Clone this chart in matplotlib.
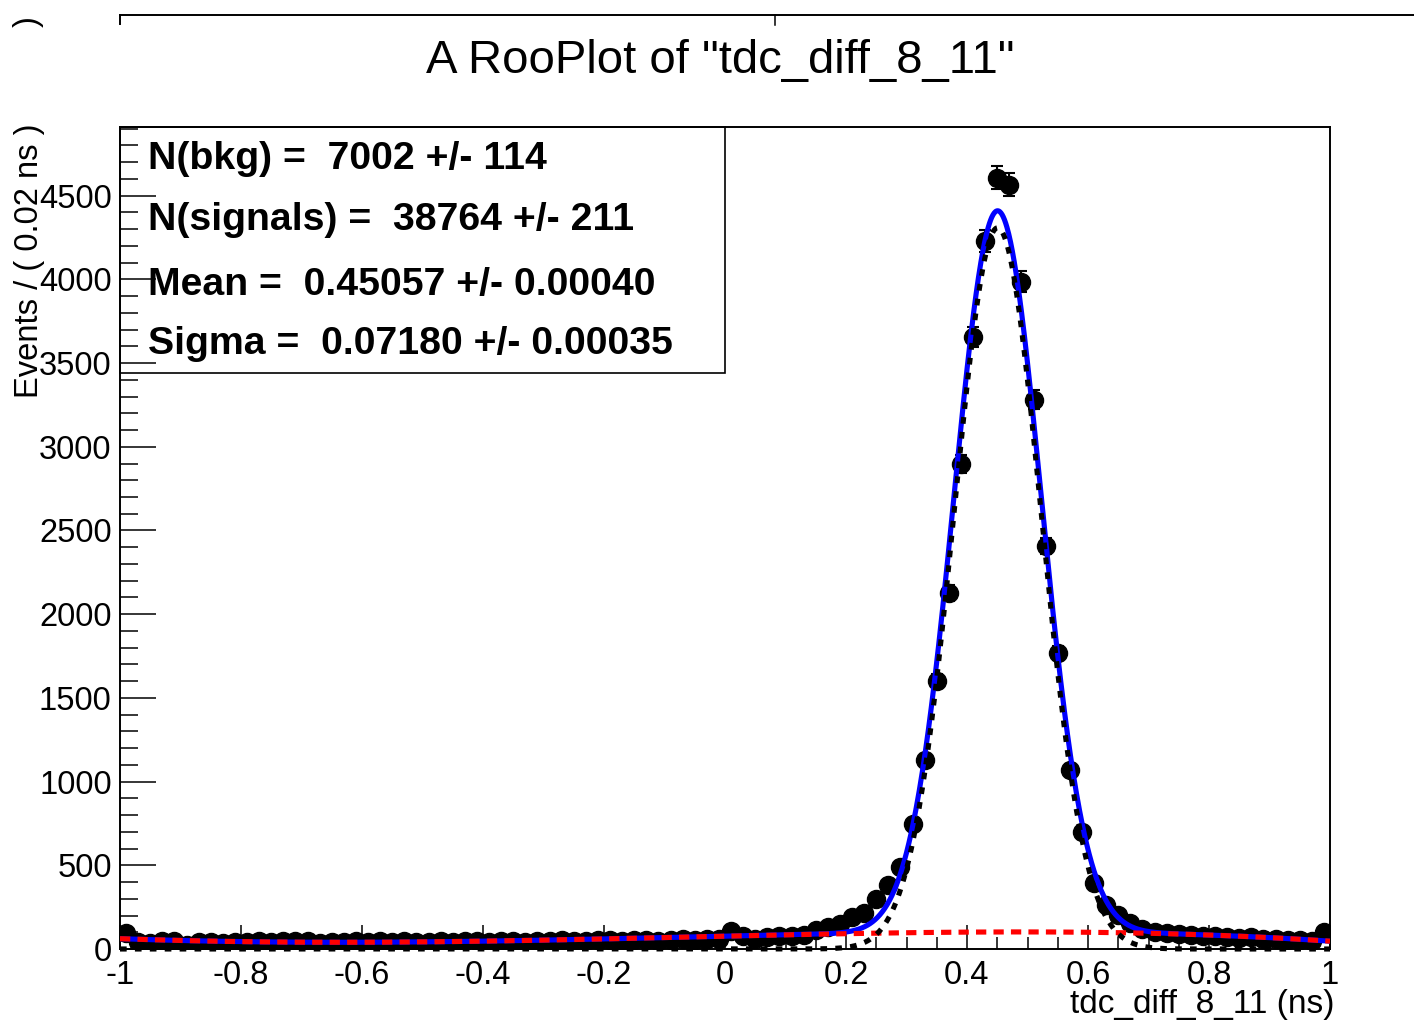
import numpy as np
import matplotlib
matplotlib.use("Agg")
import matplotlib.pyplot as plt
from matplotlib.lines import Line2D
from matplotlib.patches import Rectangle

plt.rcParams["font.family"] = ["Liberation Sans", "DejaVu Sans"]

# ---- data: event counts per 0.02 ns bin, tdc_diff_8_11 in [-1, 1] ----
x_lo, x_hi = -1.0, 1.0
n_bins = 100
counts = [
    95, 42, 38, 48, 46, 22, 40, 44, 38, 42,
    40, 45, 42, 48, 46, 50, 35, 40, 44, 46,
    40, 48, 42, 45, 40, 44, 46, 42, 50, 48,
    44, 46, 50, 42, 48, 45, 52, 48, 50, 55,
    52, 50, 55, 52, 50, 55, 58, 52, 60, 62,
    110, 78, 60, 70, 75, 78, 82, 112, 130, 152,
    190, 215, 300, 382, 490, 747, 1130, 1601, 2127, 2898,
    3657, 4231, 4607, 4565, 3986, 3281, 2408, 1769, 1070, 699,
    394, 263, 203, 155, 118, 100, 95, 90, 86, 80,
    76, 70, 64, 72, 60, 58, 55, 52, 50, 100,
]

# ---- fit results ----
n_bkg = 7002
n_bkg_err = 114
n_sig = 38764
n_sig_err = 211
mean = 0.45057
mean_err = 0.00040
sigma = 0.07180
sigma_err = 0.00035
# polynomial background shape (coefficients of x^0 .. x^4)
bkg_coeffs = [72.0, 77.0, -14.33, -84.0, -6.67]

edges = np.linspace(x_lo, x_hi, n_bins + 1)
centers = 0.5 * (edges[:-1] + edges[1:])
bin_width = edges[1] - edges[0]
counts = np.array(counts, dtype=float)
errors = np.sqrt(counts)

xs = np.linspace(x_lo, x_hi, 2001)
bkg_shape = np.polynomial.polynomial.polyval(xs, bkg_coeffs)
bkg_norm = np.trapezoid(bkg_shape, xs)
bkg_curve = n_bkg * bin_width * bkg_shape / bkg_norm
sig_curve = n_sig * bin_width * np.exp(-0.5 * ((xs - mean) / sigma) ** 2) / (np.sqrt(2 * np.pi) * sigma)
total_curve = sig_curve + bkg_curve

W, H = 1414, 1022
fig = plt.figure(figsize=(W / 100, H / 100), dpi=100)
ax = fig.add_axes([120 / W, 1 - 949 / H, (1330 - 120) / W, (949 - 127) / H])

ax.errorbar(centers, counts, yerr=errors, fmt="o", color="black", ms=13,
            elinewidth=1.5, capsize=4, capthick=1.5, zorder=2)
lw = 3.7
ax.plot(xs, total_curve, color="#0000ff", lw=lw, zorder=3)
ax.plot(xs, bkg_curve, color="#ff0000", lw=lw, dashes=(2.0, 1.4), zorder=4)
ax.plot(xs, sig_curve, color="black", lw=lw, dashes=(1.3, 1.6), zorder=5, clip_on=False)

ax.set_xlim(x_lo, x_hi)
ax.set_ylim(0, 4910)

ax.set_xticks(np.arange(-1.0, 1.01, 0.2))
ax.set_xticks(np.arange(-1.0, 1.01, 0.05), minor=True)
ax.set_yticks(np.arange(0, 4501, 500))
ax.set_yticks(np.arange(0, 4901, 100), minor=True)
ax.set_xticklabels(["-1", "-0.8", "-0.6", "-0.4", "-0.2", "0", "0.2", "0.4", "0.6", "0.8", "1"])
ax.tick_params(axis="both", which="both", direction="in", top=False, right=False,
               width=1.1, labelsize=23.5)
ax.tick_params(axis="x", which="major", length=17, pad=8)
ax.tick_params(axis="x", which="minor", length=8.5)
ax.tick_params(axis="y", which="major", length=26, pad=6)
ax.tick_params(axis="y", which="minor", length=13)
for sp in ax.spines.values():
    sp.set_linewidth(1.4)

# fit parameter box
ax.add_patch(Rectangle((120 / W, 1 - 373 / H), (725 - 120) / W, (373 - 127) / H,
                       transform=fig.transFigure, fill=False, edgecolor="black",
                       lw=1.2, zorder=6, clip_on=False))
box_lines = [
    (159, f"N(bkg) =  {n_bkg} +/- {n_bkg_err}"),
    (220, f"N(signals) =  {n_sig} +/- {n_sig_err}"),
    (285, f"Mean =  {mean:.5f} +/- {mean_err:.5f}"),
    (344, f"Sigma =  {sigma:.5f} +/- {sigma_err:.5f}"),
]
for yp, txt in box_lines:
    fig.text(148 / W, 1 - yp / H, txt, ha="left", va="center", fontsize=28.3,
             fontweight="bold", zorder=7)

fig.text(720 / W, 1 - 61 / H, 'A RooPlot of "tdc_diff_8_11"', ha="center", va="center", fontsize=34)
fig.text(30 / W, 1 - 124 / H, "Events / ( 0.02 ns )", rotation=90, ha="center", va="top", fontsize=23.6)
fig.text(1335 / W, 1 - 1004 / H, "tdc_diff_8_11 (ns)", ha="right", va="center", fontsize=24)

# frame edge of the pad above
fig.add_artist(Line2D([120 / W, 1.0], [1 - 15 / H, 1 - 15 / H], color="black", lw=1.4,
                      transform=fig.transFigure))
fig.add_artist(Line2D([120 / W, 120 / W], [1 - 15 / H, 1 - 24 / H], color="black", lw=1.4,
                      transform=fig.transFigure))
fig.add_artist(Line2D([775 / W, 775 / W], [1 - 15 / H, 1 - 25 / H], color="black", lw=1.1,
                      transform=fig.transFigure))
fig.text(28 / W, 1 - 22 / H, ")", rotation=90, ha="center", va="center", fontsize=23.6)

fig.savefig("out.png", dpi=100)
